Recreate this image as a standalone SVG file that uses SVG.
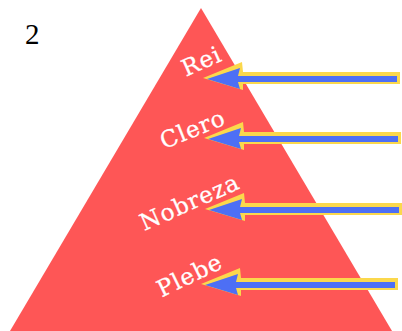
<svg xmlns="http://www.w3.org/2000/svg" xmlns:xlink="http://www.w3.org/1999/xlink" width="402" height="331" viewBox="0 0 402 331">
<style>
.lbl{font-family:"DejaVu Serif","Liberation Serif",serif;font-size:23px;fill:#ffffff;stroke:#ffffff;stroke-width:0.3;text-anchor:middle;letter-spacing:1px}
.num{font-family:"Liberation Serif",serif;font-size:29px;fill:#000000}
.yel{fill:#fbd84c}
.blu{fill:#4d6ff5}
</style>
<defs>
<g id="arrow">
<polygon class="yel" points="-4,-1 35,-17 36,-7 193,-7 193,5 36,5 36,11"/>
<polygon class="blu" points="0,0 33,-11 31,-3 190,-3 190,3 31,3 33,10"/>
</g>
</defs>
<rect width="402" height="331" fill="#ffffff"/>
<g id="pyramid"><polygon points="201,8 392,331 10,331" fill="#fe5656"/></g>
<g id="number"><text class="num" x="25" y="44">2</text></g>
<g id="rei"><text class="lbl" transform="translate(202,62) rotate(-24)" y="7">Rei</text></g>
<g id="clero"><text class="lbl" transform="translate(193,130) rotate(-22)" y="7">Clero</text></g>
<g id="nobreza"><text class="lbl" transform="translate(190,203) rotate(-24)" y="7">Nobreza</text></g>
<g id="plebe"><text class="lbl" transform="translate(190,276) rotate(-26)" y="7">Plebe</text></g>
<g id="connectors">
<use xlink:href="#arrow" transform="translate(207,79)"/>
<use xlink:href="#arrow" transform="translate(208,139)"/>
<use xlink:href="#arrow" transform="translate(209,210)"/>
<use xlink:href="#arrow" transform="translate(205,285)"/>
</g>
</svg>
